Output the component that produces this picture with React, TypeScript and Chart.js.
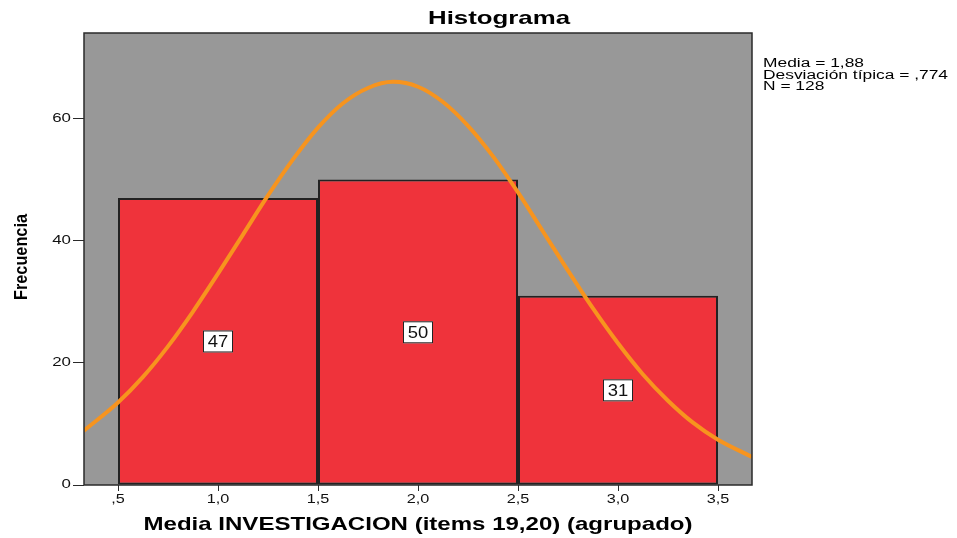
import React, { useEffect, useRef } from 'react';
import { Chart, registerables } from 'chart.js';

Chart.register(...registerables);

// ---- data ----
const BIN_CENTERS = [1, 2, 3];
const FREQUENCIES = [47, 50, 31];

const CURVE_X = [0.33, 0.5, 0.625, 0.75, 0.875, 1.0, 1.125, 1.25, 1.375, 1.5, 1.625, 1.75, 1.875, 2.0, 2.125, 2.25, 2.375, 2.5, 2.625, 2.75, 2.875, 3.0, 3.125, 3.25, 3.375, 3.5, 3.67];
const CURVE_Y = [8.9, 13.5, 17.7, 22.7, 28.4, 34.6, 41.0, 47.4, 53.3, 58.5, 62.5, 65.0, 66.0, 65.2, 62.7, 58.8, 53.8, 47.9, 41.5, 35.1, 28.9, 23.2, 18.1, 13.8, 10.2, 7.4, 4.6];

const X_TICKS = [0.5, 1.0, 1.5, 2.0, 2.5, 3.0, 3.5];
const X_TICK_LABELS = [',5', '1,0', '1,5', '2,0', '2,5', '3,0', '3,5'];
const Y_TICKS = [0, 20, 40, 60];
const Y_TICK_LABELS = ['0', '20', '40', '60'];

const STATS = ['Media = 1,88', 'Desviación típica = ,774', 'N = 128'];
const TITLE = 'Histograma';
const X_TITLE = 'Media INVESTIGACION (items 19,20) (agrupado)';
const Y_TITLE = 'Frecuencia';

const X_MIN = 0.33;
const X_MAX = 3.67;
const Y_MIN = 0;
const Y_MAX = 74;

const FONT = '"Liberation Sans", Arial, sans-serif';

function drawScaled(
  ctx: CanvasRenderingContext2D,
  text: string,
  x: number,
  y: number,
  font: string,
  sx: number,
  align: CanvasTextAlign,
  color = '#000'
) {
  ctx.save();
  ctx.font = font;
  ctx.fillStyle = color;
  ctx.textBaseline = 'middle';
  ctx.textAlign = align;
  ctx.translate(x, y);
  ctx.scale(sx, 1);
  ctx.fillText(text, 0, 0);
  ctx.restore();
}

function fitScale(ctx: CanvasRenderingContext2D, text: string, font: string, width: number) {
  ctx.save();
  ctx.font = font;
  const w = ctx.measureText(text).width;
  ctx.restore();
  return w > 0 ? width / w : 1;
}

const plotPlugin = {
  id: 'spssPlot',
  beforeDatasetsDraw(chart: any) {
    const { ctx, chartArea: a } = chart;
    ctx.save();
    ctx.fillStyle = '#989898';
    ctx.fillRect(a.left, a.top, a.right - a.left, a.bottom - a.top);
    ctx.restore();
  },
  afterDatasetsDraw(chart: any) {
    const { ctx, chartArea: a } = chart;
    const xs = chart.scales.x;
    const ys = chart.scales.y;
    // plot border
    ctx.save();
    ctx.strokeStyle = '#2a2a2a';
    ctx.lineWidth = 1.5;
    ctx.strokeRect(a.left, a.top, a.right - a.left, a.bottom - a.top);
    ctx.restore();

    // value labels
    const vFont = `16px ${FONT}`;
    BIN_CENTERS.forEach((c, i) => {
      const v = FREQUENCIES[i];
      const px = xs.getPixelForValue(c);
      const py = ys.getPixelForValue(v / 2);
      const bw = 30;
      const bh = 22;
      ctx.save();
      ctx.fillStyle = '#ffffff';
      ctx.fillRect(px - bw / 2, py - bh / 2, bw, bh);
      ctx.strokeStyle = '#222';
      ctx.lineWidth = 1;
      ctx.strokeRect(px - bw / 2 + 0.5, py - bh / 2 + 0.5, bw - 1, bh - 1);
      ctx.restore();
      drawScaled(ctx, String(v), px, py + 1, vFont, 1.15, 'center', '#111');
    });
  },
  afterDraw(chart: any) {
    const { ctx, chartArea: a } = chart;
    const xs = chart.scales.x;
    const ys = chart.scales.y;

    // title
    const tFont = `bold 19px ${FONT}`;
    drawScaled(ctx, TITLE, 499, 19, tFont, fitScale(ctx, TITLE, tFont, 142), 'center');

    // stats block
    const sFont = `12px ${FONT}`;
    const ssx = fitScale(ctx, STATS[1], sFont, 185);
    STATS.forEach((s, i) => {
      drawScaled(ctx, s, 763, 64 + i * 11.5, sFont, ssx, 'left');
    });

    // x axis title
    const xtFont = `bold 19px ${FONT}`;
    drawScaled(ctx, X_TITLE, (a.left + a.right) / 2, 525, xtFont, fitScale(ctx, X_TITLE, xtFont, 549), 'center');

    // y axis title (rotated)
    const ytFont = `bold 19px ${FONT}`;
    const ysx = fitScale(ctx, Y_TITLE, ytFont, 86);
    ctx.save();
    ctx.translate(22, 257);
    ctx.rotate(-Math.PI / 2);
    drawScaled(ctx, Y_TITLE, 0, 0, ytFont, ysx, 'center');
    ctx.restore();

    // tick labels
    const tkFont = `12.5px ${FONT}`;
    X_TICKS.forEach((v, i) => {
      drawScaled(ctx, X_TICK_LABELS[i], xs.getPixelForValue(v), 500, tkFont, 1.3, 'center', '#111');
    });
    Y_TICKS.forEach((v, i) => {
      drawScaled(ctx, Y_TICK_LABELS[i], 71, ys.getPixelForValue(v), tkFont, 1.35, 'right', '#111');
    });
  },
};

export default function App() {
  const canvasRef = useRef<HTMLCanvasElement | null>(null);

  useEffect(() => {
    document.body.style.margin = '0';
    const canvas = canvasRef.current;
    if (!canvas) return;

    const chart = new Chart(canvas, {
      type: 'bar',
      data: {
        datasets: [
          {
            type: 'line',
            data: CURVE_X.map((x, i) => ({ x, y: CURVE_Y[i] })),
            borderColor: '#F7941E',
            borderWidth: 4,
            pointRadius: 0,
            tension: 0.4,
            cubicInterpolationMode: 'monotone',
            fill: false,
            order: 0,
          } as any,
          {
            type: 'bar',
            data: BIN_CENTERS.map((x, i) => ({ x, y: FREQUENCIES[i] })),
            backgroundColor: '#EF333B',
            borderColor: '#222222',
            borderWidth: 2,
            borderSkipped: false,
            // minimum sample spacing includes the 0.5-step ticks, so the bin width (1.0) is twice that
            barPercentage: 2,
            categoryPercentage: 1,
            order: 1,
          } as any,
        ],
      },
      options: {
        animation: false,
        responsive: false,
        devicePixelRatio: 1,
        layout: { padding: { top: 33, right: 205, left: 0, bottom: 0 } },
        plugins: {
          legend: { display: false },
          tooltip: { enabled: false },
          title: { display: false },
        },
        scales: {
          x: {
            type: 'linear',
            min: X_MIN,
            max: X_MAX,
            offset: false,
            afterBuildTicks: (s: any) => {
              s.ticks = X_TICKS.map((v) => ({ value: v }));
            },
            afterFit: (s: any) => {
              s.height = 53;
            },
            ticks: { color: 'rgba(0,0,0,0)', font: { size: 12 } },
            grid: {
              offset: false,
              drawOnChartArea: false,
              drawTicks: true,
              tickLength: 6,
              color: '#2a2a2a',
              lineWidth: 1,
            },
            border: { display: false },
          },
          y: {
            type: 'linear',
            min: Y_MIN,
            max: Y_MAX,
            afterBuildTicks: (s: any) => {
              s.ticks = Y_TICKS.map((v) => ({ value: v }));
            },
            afterFit: (s: any) => {
              s.width = 84;
            },
            ticks: { color: 'rgba(0,0,0,0)', font: { size: 12 } },
            grid: {
              offset: false,
              drawOnChartArea: false,
              drawTicks: true,
              tickLength: 11,
              color: '#2a2a2a',
              lineWidth: 1,
            },
            border: { display: false },
          },
        },
      } as any,
      plugins: [plotPlugin],
    });

    return () => {
      chart.destroy();
    };
  }, []);

  return (
    <div style={{ width: 957, height: 538, background: '#fff' }}>
      <canvas ref={canvasRef} width={957} height={538} style={{ display: 'block' }} />
    </div>
  );
}
